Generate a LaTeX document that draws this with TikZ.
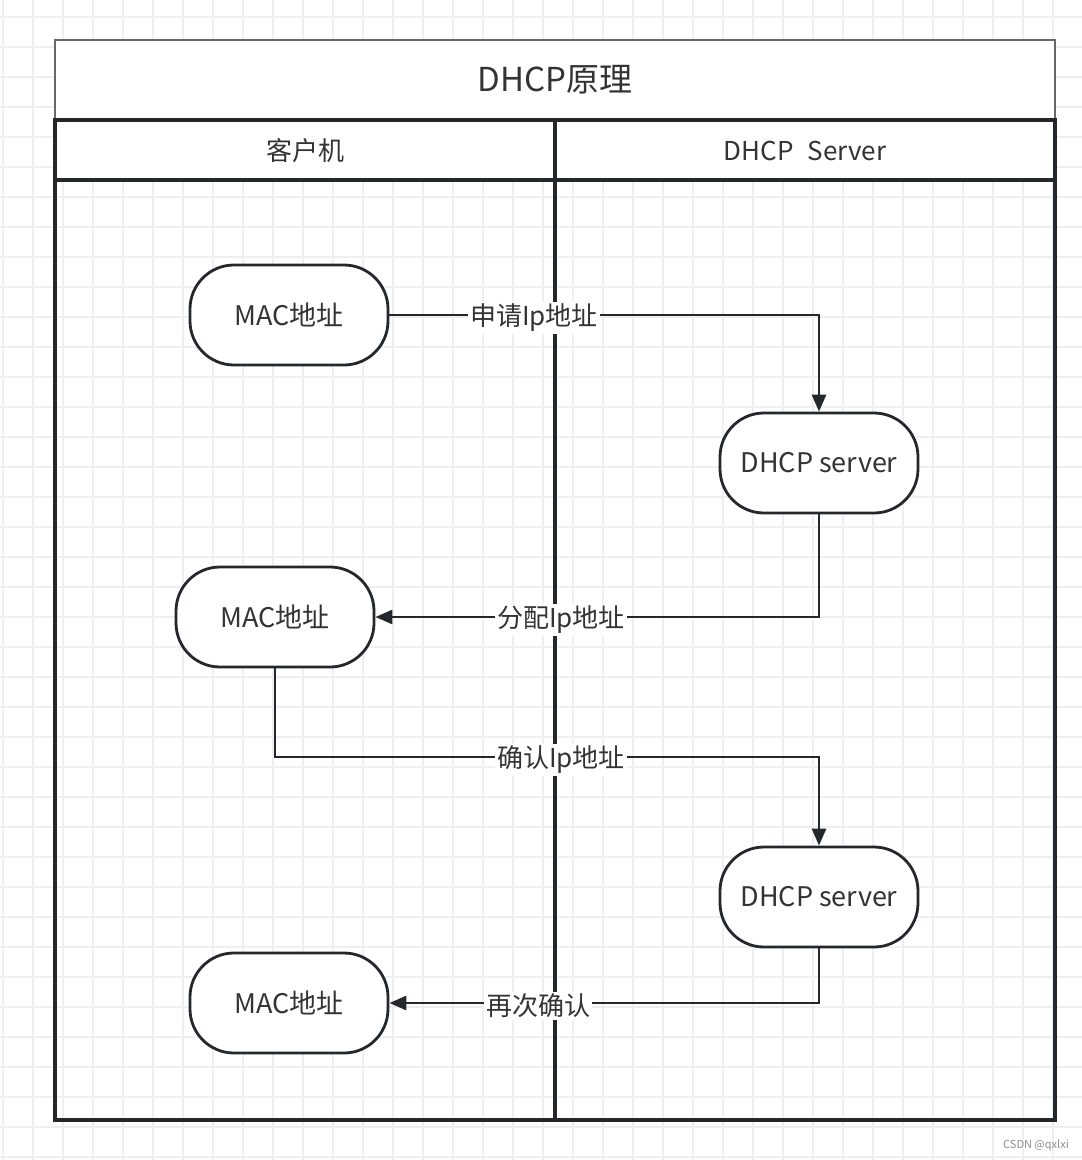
\documentclass[tikz,border=0pt]{standalone}
\usepackage{fontspec}
\setmainfont{Noto Sans CJK SC}
\usetikzlibrary{arrows.meta}
\definecolor{gridc}{HTML}{EFEFEF}
\definecolor{linec}{HTML}{24282D}
\definecolor{textc}{HTML}{333333}
\tikzset{
  term/.style={draw=linec, line width=2.8pt, fill=white, rounded corners=44pt,
    minimum width=198pt, minimum height=100pt, text=textc, inner sep=0pt,
    font=\fontsize{27pt}{31pt}\selectfont},
  flow/.style={draw=linec, line width=2.8pt, -{Triangle[length=17pt,width=14pt]}},
  elabel/.style={fill=white, text=textc, inner sep=2pt, font=\fontsize{26pt}{30pt}\selectfont},
  lane/.style={draw=linec, line width=3.4pt},
  hdr/.style={text=textc, font=\fontsize{26pt}{30pt}\selectfont},
}
\begin{document}
\begin{tikzpicture}[x=1pt,y=-1pt]
\useasboundingbox (0,0) rectangle (1082,1160);
% background grid
\foreach \gx in {3,33,...,1083} \draw[gridc, line width=1.6pt] (\gx,0) -- (\gx,1160);
\foreach \gy in {17,47,...,1160} \draw[gridc, line width=1.6pt] (0,\gy) -- (1082,\gy);
% pool
\fill[white] (55,40) rectangle (1055,180);
\draw[draw=linec!70, line width=1.8pt] (55,120) -- (55,40) -- (1055,40) -- (1055,120);
\draw[lane] (55,120) rectangle (1055,1120);
\draw[lane] (55,180) -- (1055,180);
\draw[lane] (555,120) -- (555,1120);
\node[text=textc, font=\fontsize{33pt}{37pt}\selectfont] (title) at (555,80) {DHCP原理};
\node[hdr] (h1) at (305,151) {客户机};
\node[hdr] (h2) at (805,151) {DHCP\hspace{14pt}Server};
% nodes
\node[term] (mac1) at (289,315) {MAC地址};
\node[term] (dhcp1) at (819,463) {DHCP server};
\node[term] (mac2) at (275,617) {MAC地址};
\node[term] (dhcp2) at (819,897) {DHCP server};
\node[term] (mac3) at (289,1003) {MAC地址};
% edges
\draw[flow] (mac1.east) -| (dhcp1.north);
\node[elabel] (l1) at (534,318) {申请Ip地址};
\draw[flow] (dhcp1.south) |- (mac2.east);
\node[elabel] (l2) at (561,620) {分配Ip地址};
\coordinate (c3) at (0,757);
\draw[flow] (mac2.south) -- (mac2.south |- c3) -- (dhcp2.north |- c3) -- (dhcp2.north);
\node[elabel] (l3) at (561,760) {确认Ip地址};
\draw[flow] (dhcp2.south) |- (mac3.east);
\node[elabel] (l4) at (538,1006) {再次确认};
% watermark
\node[text=black!45, font=\fontsize{11pt}{13pt}\selectfont] (wm) at (1036,1145) {CSDN @qxlxi};
\end{tikzpicture}
\end{document}
